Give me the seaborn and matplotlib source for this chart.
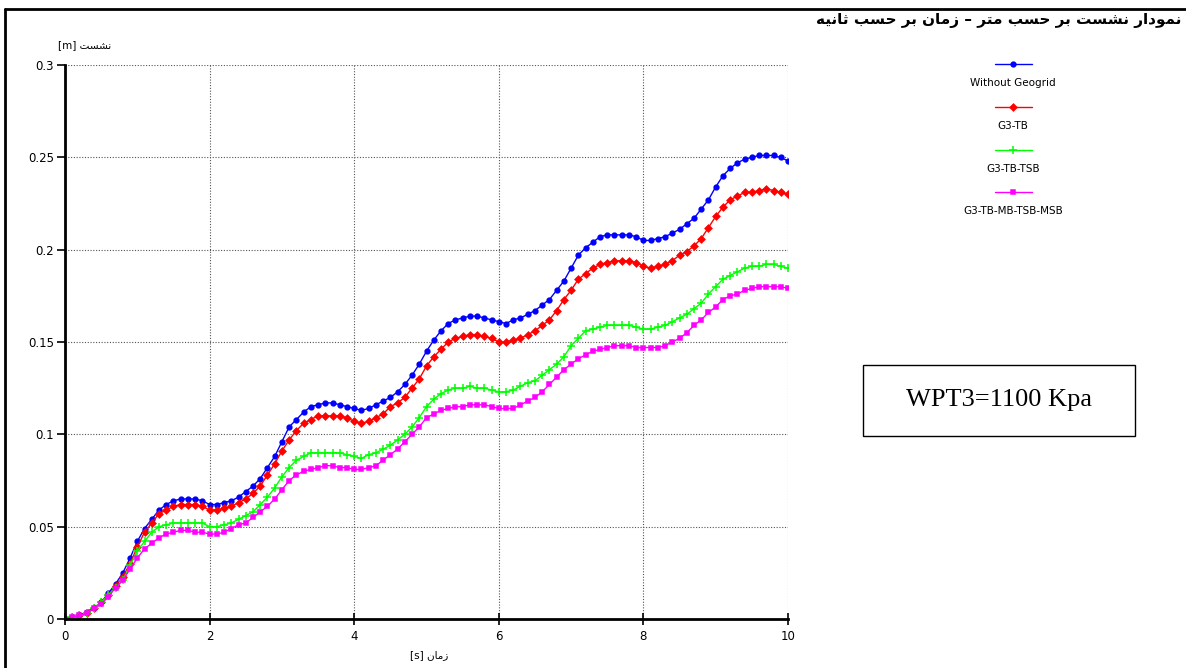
import numpy as np
import pandas as pd
import matplotlib
matplotlib.use("Agg")
import matplotlib.pyplot as plt
import seaborn as sns
from matplotlib.lines import Line2D
from matplotlib.patches import Rectangle
from matplotlib.ticker import FuncFormatter

# time axis (s), one sample every 0.1 s
time_s = [round(i * 0.1, 1) for i in range(101)]

# settlement (m)
without_geogrid = [
    0.000, 0.001, 0.002, 0.004, 0.006, 0.009, 0.014, 0.019, 0.025, 0.033,
    0.042, 0.049, 0.054, 0.059, 0.062, 0.064, 0.065, 0.065, 0.065, 0.064,
    0.062, 0.062, 0.063, 0.064, 0.066, 0.069, 0.072, 0.076, 0.082, 0.088,
    0.096, 0.104, 0.108, 0.112, 0.115, 0.116, 0.117, 0.117, 0.116, 0.115,
    0.114, 0.113, 0.114, 0.116, 0.118, 0.120, 0.123, 0.127, 0.132, 0.138,
    0.145, 0.151, 0.156, 0.160, 0.162, 0.163, 0.164, 0.164, 0.163, 0.162,
    0.161, 0.160, 0.162, 0.163, 0.165, 0.167, 0.170, 0.173, 0.178, 0.183,
    0.190, 0.197, 0.201, 0.204, 0.207, 0.208, 0.208, 0.208, 0.208, 0.207,
    0.205, 0.205, 0.206, 0.207, 0.209, 0.211, 0.214, 0.217, 0.222, 0.227,
    0.234, 0.240, 0.244, 0.247, 0.249, 0.250, 0.251, 0.251, 0.251, 0.250,
    0.248,
]
g3_tb = [
    0.000, 0.001, 0.002, 0.003, 0.006, 0.009, 0.013, 0.018, 0.023, 0.030,
    0.039, 0.047, 0.052, 0.057, 0.059, 0.061, 0.062, 0.062, 0.062, 0.061,
    0.059, 0.059, 0.060, 0.061, 0.063, 0.065, 0.068, 0.072, 0.078, 0.084,
    0.091, 0.097, 0.102, 0.106, 0.108, 0.110, 0.110, 0.110, 0.110, 0.109,
    0.107, 0.106, 0.107, 0.109, 0.111, 0.115, 0.117, 0.120, 0.125, 0.130,
    0.137, 0.142, 0.146, 0.150, 0.152, 0.153, 0.154, 0.154, 0.153, 0.152,
    0.150, 0.150, 0.151, 0.152, 0.154, 0.156, 0.159, 0.162, 0.167, 0.173,
    0.178, 0.184, 0.187, 0.190, 0.192, 0.193, 0.194, 0.194, 0.194, 0.193,
    0.191, 0.190, 0.191, 0.192, 0.194, 0.197, 0.199, 0.202, 0.206, 0.212,
    0.218, 0.223, 0.227, 0.229, 0.231, 0.231, 0.232, 0.233, 0.232, 0.231,
    0.230,
]
g3_tb_tsb = [
    0.000, 0.001, 0.002, 0.003, 0.006, 0.009, 0.013, 0.017, 0.021, 0.029,
    0.037, 0.042, 0.047, 0.050, 0.051, 0.052, 0.052, 0.052, 0.052, 0.052,
    0.050, 0.050, 0.051, 0.052, 0.054, 0.056, 0.058, 0.062, 0.066, 0.071,
    0.077, 0.082, 0.086, 0.088, 0.090, 0.090, 0.090, 0.090, 0.090, 0.089,
    0.088, 0.087, 0.089, 0.090, 0.092, 0.094, 0.097, 0.100, 0.104, 0.109,
    0.115, 0.119, 0.122, 0.124, 0.125, 0.125, 0.126, 0.125, 0.125, 0.124,
    0.123, 0.123, 0.124, 0.126, 0.128, 0.129, 0.132, 0.135, 0.138, 0.142,
    0.148, 0.152, 0.156, 0.157, 0.158, 0.159, 0.159, 0.159, 0.159, 0.158,
    0.157, 0.157, 0.158, 0.159, 0.161, 0.163, 0.165, 0.168, 0.171, 0.176,
    0.180, 0.184, 0.186, 0.188, 0.190, 0.191, 0.191, 0.192, 0.192, 0.191,
    0.190,
]
g3_tb_mb_tsb_msb = [
    0.000, 0.001, 0.002, 0.003, 0.006, 0.008, 0.012, 0.017, 0.021, 0.027,
    0.033, 0.038, 0.041, 0.044, 0.046, 0.047, 0.048, 0.048, 0.047, 0.047,
    0.046, 0.046, 0.047, 0.049, 0.051, 0.052, 0.055, 0.058, 0.061, 0.065,
    0.070, 0.075, 0.078, 0.080, 0.081, 0.082, 0.083, 0.083, 0.082, 0.082,
    0.081, 0.081, 0.082, 0.083, 0.086, 0.089, 0.092, 0.096, 0.100, 0.104,
    0.109, 0.111, 0.113, 0.114, 0.115, 0.115, 0.116, 0.116, 0.116, 0.115,
    0.114, 0.114, 0.114, 0.116, 0.118, 0.120, 0.123, 0.127, 0.131, 0.135,
    0.138, 0.141, 0.143, 0.145, 0.146, 0.147, 0.148, 0.148, 0.148, 0.147,
    0.147, 0.147, 0.147, 0.148, 0.150, 0.152, 0.155, 0.159, 0.162, 0.166,
    0.169, 0.173, 0.175, 0.176, 0.178, 0.179, 0.180, 0.180, 0.180, 0.180,
    0.179,
]

series_names = ["Without Geogrid", "G3-TB", "G3-TB-TSB", "G3-TB-MB-TSB-MSB"]
series_values = [without_geogrid, g3_tb, g3_tb_tsb, g3_tb_mb_tsb_msb]
colors = ["#0000ff", "#ff0000", "#00ff00", "#ff00ff"]
markers = ["o", "D", "+", "s"]
msizes = [3.4, 3.4, 6, 3.4]

title_fa = "نمودار نشست بر حسب متر – زمان بر حسب ثانیه"
ylabel_fa = "نشست"
xlabel_fa = "زمان"
box_text = "WPT3=1100 Kpa"

# minimal Persian shaping (matplotlib has no bidi / shaping)
FORMS = {
    "ا": ("\uFE8D", "\uFE8E"), "د": ("\uFEA9", "\uFEAA"),
    "ر": ("\uFEAD", "\uFEAE"), "ز": ("\uFEAF", "\uFEB0"),
    "و": ("\uFEED", "\uFEEE"),
    "ب": ("\uFE8F", "\uFE90", "\uFE91", "\uFE92"),
    "ت": ("\uFE95", "\uFE96", "\uFE97", "\uFE98"),
    "ث": ("\uFE99", "\uFE9A", "\uFE9B", "\uFE9C"),
    "ح": ("\uFEA1", "\uFEA2", "\uFEA3", "\uFEA4"),
    "س": ("\uFEB1", "\uFEB2", "\uFEB3", "\uFEB4"),
    "ش": ("\uFEB5", "\uFEB6", "\uFEB7", "\uFEB8"),
    "م": ("\uFEE1", "\uFEE2", "\uFEE3", "\uFEE4"),
    "ن": ("\uFEE5", "\uFEE6", "\uFEE7", "\uFEE8"),
    "ه": ("\uFEE9", "\uFEEA", "\uFEEB", "\uFEEC"),
    "ی": ("\uFBFC", "\uFBFD", "\uFBFE", "\uFBFF"),
}


def rtl(text):
    out = []
    for i, ch in enumerate(text):
        f = FORMS.get(ch)
        if f is None:
            out.append(ch)
            continue
        prev = text[i - 1] if i > 0 else ""
        nxt = text[i + 1] if i + 1 < len(text) else ""
        jp = prev in FORMS and len(FORMS[prev]) == 4
        jn = nxt in FORMS and len(f) == 4
        if jp and jn:
            out.append(f[3])
        elif jp:
            out.append(f[1])
        elif jn:
            out.append(f[2])
        else:
            out.append(f[0])
    return "".join(out)[::-1]


sns.set_theme(style="white")
plt.rcParams["font.family"] = ["Liberation Sans Narrow", "DejaVu Sans"]
plt.rcParams["axes.unicode_minus"] = False
plt.rcParams["text.color"] = "black"
plt.rcParams["xtick.color"] = "black"
plt.rcParams["ytick.color"] = "black"

fig = plt.figure(figsize=(11.86, 6.68), dpi=100)
W, H = 1186, 668
ax = fig.add_axes([65 / W, 1 - 619 / H, (788 - 65) / W, (619 - 65) / H])

for name, vals, c, m, ms in zip(series_names, series_values, colors, markers, msizes):
    df = pd.DataFrame({"t": time_s, "s": vals})
    sns.lineplot(data=df, x="t", y="s", ax=ax, color=c, lw=1.0, marker=m,
                 markersize=ms, markeredgecolor=c, markeredgewidth=1.1,
                 label=name, legend=False)

ax.set_xlim(0, 10)
ax.set_ylim(0, 0.3)
ax.set_xticks([0, 2, 4, 6, 8, 10])
ax.set_yticks([0, 0.05, 0.1, 0.15, 0.2, 0.25, 0.3])
ax.yaxis.set_major_formatter(FuncFormatter(lambda v, p: "%g" % round(v, 2)))
ax.grid(True, color="#555555", linestyle=(0, (1, 1.5)), linewidth=0.8)
ax.set_xlabel("")
ax.set_ylabel("")
for side in ["top", "right"]:
    ax.spines[side].set_visible(False)
for side in ["left", "bottom"]:
    ax.spines[side].set_color("black")
    ax.spines[side].set_linewidth(2)
ax.tick_params(axis="x", direction="inout", length=8, width=1.2, labelsize=8.5,
               bottom=True, pad=4, colors="black")
ax.tick_params(axis="y", direction="out", length=6, width=1.2, labelsize=8.5,
               left=True, pad=2, colors="black")

# axis labels in the corners like the original
fig.text(58 / W, 1 - 45 / H, "[m] " + rtl(ylabel_fa), fontsize=7.5, color="black",
         ha="left", va="center", family=["Liberation Sans Narrow", "DejaVu Sans"])
fig.text(410 / W, 1 - 655 / H, "[s] " + rtl(xlabel_fa), fontsize=7.5, color="black",
         ha="left", va="center", family=["Liberation Sans Narrow", "DejaVu Sans"])

# title top right
fig.text(1181 / W, 1 - 21 / H, rtl(title_fa), fontsize=11, fontweight="bold",
         color="black", ha="right", va="center", family=["DejaVu Sans"])

# outer frame (top and left edges)
fig.add_artist(Line2D([5 / W, 1.0], [1 - 9 / H, 1 - 9 / H], transform=fig.transFigure,
                      color="black", lw=2))
fig.add_artist(Line2D([5 / W, 5 / W], [0, 1 - 9 / H], transform=fig.transFigure,
                      color="black", lw=2))

# legend: sample line with marker above, label below
leg_y = [64, 107, 150, 192]
for name, c, m, ms, y in zip(series_names, colors, markers, msizes, leg_y):
    fig.add_artist(Line2D([995 / W, 1013 / W, 1032 / W], [1 - y / H] * 3,
                          transform=fig.transFigure, color=c, lw=1.0,
                          marker=m, markersize=ms, markeredgecolor=c,
                          markeredgewidth=1.1, markevery=[1]))
    fig.text(1013 / W, 1 - (y + 19) / H, name, fontsize=7.5, color="black",
             ha="center", va="center")

# annotation box
fig.add_artist(Rectangle((863 / W, 1 - 436 / H), (1135 - 863) / W, (436 - 365) / H,
                         transform=fig.transFigure, facecolor="white",
                         edgecolor="black", lw=1))
fig.text(999 / W, 1 - 400 / H, box_text, fontsize=19, color="black",
         ha="center", va="center", family=["Liberation Serif", "DejaVu Serif"])

fig.savefig("out.png", dpi=100)
